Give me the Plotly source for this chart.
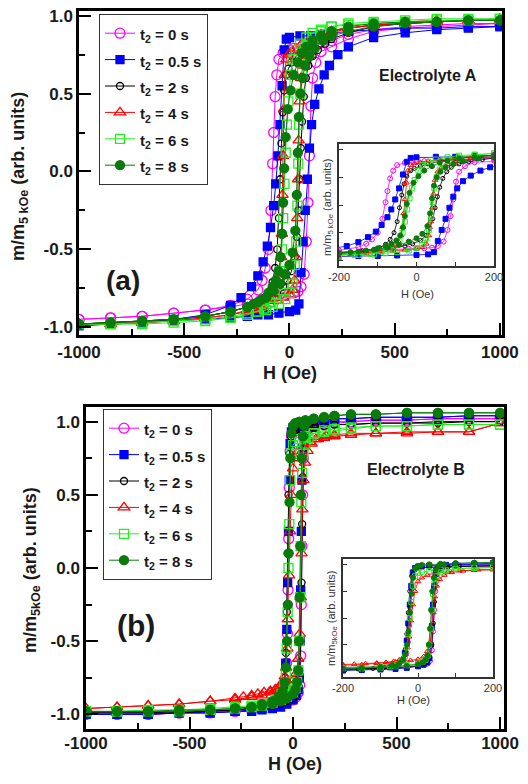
import plotly.graph_objects as go

# ================= DATA =================
LABELS = ["t<sub>2</sub> = 0 s", "t<sub>2</sub> = 0.5 s", "t<sub>2</sub> = 2 s",
          "t<sub>2</sub> = 4 s", "t<sub>2</sub> = 6 s", "t<sub>2</sub> = 8 s"]

# ---- Electrolyte A ----
A0_H_DOWN = [1000, 850, 700, 550, 400, 280, 200, 140, 100, 60, 20, 0, -30, -50, -60, -68, -75, -80, -88, -100, -115, -130, -150, -200, -280, -400, -550, -700, -850, -1000]
A0_M_DOWN = [0.95, 0.95, 0.94, 0.93, 0.91, 0.88, 0.84, 0.82, 0.81, 0.80, 0.79, 0.78, 0.76, 0.72, 0.62, 0.48, 0.25, 0.05, -0.25, -0.5, -0.62, -0.70, -0.76, -0.82, -0.86, -0.89, -0.91, -0.93, -0.94, -0.95]
A0_H_UP = [-1000, -850, -700, -550, -400, -280, -200, -140, -100, -60, -20, 0, 20, 40, 55, 70, 80, 88, 95, 102, 110, 125, 150, 200, 280, 400, 550, 700, 850, 1000]
A0_M_UP = [-0.95, -0.94, -0.93, -0.91, -0.89, -0.87, -0.85, -0.83, -0.81, -0.80, -0.79, -0.78, -0.78, -0.77, -0.74, -0.66, -0.45, -0.2, 0.1, 0.42, 0.6, 0.7, 0.77, 0.8, 0.85, 0.9, 0.92, 0.93, 0.94, 0.95]

A1_H_DOWN = [1000, 850, 700, 550, 400, 280, 200, 150, 100, 50, 0, -15, -25, -35, -45, -55, -65, -75, -90, -105, -125, -150, -180, -230, -280, -400, -550, -700, -850, -1000]
A1_M_DOWN = [0.93, 0.93, 0.92, 0.92, 0.91, 0.90, 0.89, 0.88, 0.87, 0.87, 0.86, 0.85, 0.78, 0.55, 0.30, 0.10, -0.08, -0.22, -0.36, -0.48, -0.58, -0.67, -0.74, -0.81, -0.86, -0.92, -0.95, -0.97, -0.98, -0.99]
A1_H_UP = [-1000, -850, -700, -550, -400, -280, -200, -150, -100, -50, 0, 30, 45, 55, 65, 75, 85, 95, 105, 120, 140, 165, 190, 230, 280, 400, 550, 700, 850, 1000]
A1_M_UP = [-0.99, -0.98, -0.97, -0.96, -0.95, -0.94, -0.93, -0.92, -0.92, -0.91, -0.90, -0.89, -0.85, -0.65, -0.45, -0.25, -0.05, 0.15, 0.3, 0.43, 0.53, 0.62, 0.68, 0.75, 0.80, 0.86, 0.89, 0.91, 0.92, 0.93]

A2_H_DOWN = [1000, 850, 700, 550, 400, 280, 200, 150, 100, 60, 30, 10, -5, -15, -25, -32, -38, -44, -50, -58, -68, -80, -95, -110, -140, -170, -200, -280, -400, -550, -700, -850, -1000]
A2_M_DOWN = [0.97, 0.97, 0.96, 0.95, 0.94, 0.92, 0.9, 0.87, 0.84, 0.79, 0.74, 0.7, 0.66, 0.62, 0.52, 0.38, 0.18, -0.05, -0.3, -0.5, -0.62, -0.71, -0.77, -0.80, -0.83, -0.85, -0.87, -0.9, -0.93, -0.95, -0.96, -0.97, -0.98]
A2_H_UP = [-1000, -850, -700, -550, -400, -280, -200, -150, -100, -60, -30, -10, 10, 25, 35, 42, 48, 54, 60, 68, 78, 90, 110, 135, 170, 200, 280, 400, 550, 700, 850, 1000]
A2_M_UP = [-0.98, -0.97, -0.96, -0.95, -0.93, -0.9, -0.87, -0.85, -0.82, -0.78, -0.74, -0.7, -0.64, -0.55, -0.42, -0.25, -0.05, 0.15, 0.32, 0.48, 0.6, 0.68, 0.74, 0.78, 0.82, 0.85, 0.89, 0.93, 0.95, 0.96, 0.97, 0.97]

A3_H_DOWN = [1000, 850, 700, 550, 400, 280, 200, 150, 100, 60, 30, 10, -5, -15, -22, -26, -30, -33, -36, -40, -46, -55, -70, -95, -130, -170, -200, -280, -400, -550, -700, -850, -1000]
A3_M_DOWN = [0.97, 0.97, 0.96, 0.95, 0.94, 0.92, 0.9, 0.88, 0.85, 0.82, 0.79, 0.77, 0.75, 0.72, 0.62, 0.4, 0.1, -0.15, -0.4, -0.55, -0.66, -0.73, -0.78, -0.83, -0.86, -0.88, -0.89, -0.92, -0.94, -0.96, -0.97, -0.98, -0.98]
A3_H_UP = [-1000, -850, -700, -550, -400, -280, -200, -170, -130, -95, -60, -30, 0, 15, 25, 32, 37, 41, 44, 48, 55, 65, 80, 100, 140, 200, 280, 400, 550, 700, 850, 1000]
A3_M_UP = [-0.98, -0.98, -0.97, -0.96, -0.94, -0.92, -0.9, -0.89, -0.87, -0.85, -0.83, -0.81, -0.79, -0.76, -0.7, -0.55, -0.3, -0.05, 0.2, 0.45, 0.6, 0.68, 0.74, 0.79, 0.84, 0.89, 0.92, 0.94, 0.96, 0.97, 0.97, 0.98]

A4_H_DOWN = [1000, 850, 700, 550, 400, 280, 200, 150, 110, 80, 50, 30, 15, 5, -5, -12, -18, -24, -30, -36, -44, -55, -70, -90, -120, -160, -200, -280, -400, -550, -700, -850, -1000]
A4_M_DOWN = [0.98, 0.97, 0.97, 0.96, 0.95, 0.94, 0.93, 0.91, 0.89, 0.86, 0.82, 0.78, 0.72, 0.62, 0.45, 0.3, 0.12, -0.08, -0.3, -0.5, -0.64, -0.73, -0.79, -0.84, -0.88, -0.9, -0.92, -0.94, -0.96, -0.97, -0.98, -0.98, -0.98]
A4_H_UP = [-1000, -850, -700, -550, -400, -280, -200, -150, -110, -80, -50, -20, 0, 15, 25, 32, 38, 42, 46, 52, 60, 70, 85, 110, 150, 200, 280, 400, 550, 700, 850, 1000]
A4_M_UP = [-0.98, -0.98, -0.97, -0.96, -0.95, -0.93, -0.91, -0.9, -0.89, -0.87, -0.85, -0.82, -0.78, -0.72, -0.6, -0.45, -0.22, 0.05, 0.3, 0.5, 0.64, 0.74, 0.81, 0.86, 0.9, 0.93, 0.95, 0.96, 0.97, 0.98, 0.98, 0.98]

A5_H_DOWN = [1000, 850, 700, 550, 400, 280, 200, 150, 110, 80, 60, 40, 20, 5, -8, -18, -25, -30, -35, -42, -52, -65, -80, -100, -130, -170, -200, -280, -400, -550, -700, -850, -1000]
A5_M_DOWN = [0.97, 0.97, 0.96, 0.96, 0.95, 0.93, 0.9, 0.87, 0.84, 0.8, 0.76, 0.7, 0.62, 0.52, 0.4, 0.22, 0.02, -0.2, -0.4, -0.55, -0.64, -0.7, -0.74, -0.78, -0.82, -0.85, -0.87, -0.9, -0.93, -0.95, -0.96, -0.97, -0.98]
A5_H_UP = [-1000, -850, -700, -550, -400, -280, -200, -150, -110, -75, -45, -20, 0, 15, 28, 35, 40, 45, 52, 62, 75, 95, 120, 160, 200, 280, 400, 550, 700, 850, 1000]
A5_M_UP = [-0.98, -0.97, -0.96, -0.95, -0.93, -0.9, -0.87, -0.84, -0.81, -0.77, -0.72, -0.66, -0.6, -0.52, -0.38, -0.15, 0.12, 0.35, 0.5, 0.6, 0.68, 0.74, 0.79, 0.84, 0.87, 0.9, 0.93, 0.95, 0.96, 0.97, 0.97]

# ---- Electrolyte B ----
B0_H_DOWN = [1000, 850, 700, 550, 400, 280, 200, 150, 100, 60, 30, 10, 0, -8, -14, -18, -21, -24, -27, -31, -38, -50, -70, -100, -150, -200, -280, -400, -550, -700, -850, -1000]
B0_M_DOWN = [1.02, 1.02, 1.02, 1.01, 1.01, 1.0, 0.99, 0.98, 0.97, 0.96, 0.95, 0.94, 0.93, 0.9, 0.8, 0.55, 0.2, -0.15, -0.45, -0.65, -0.78, -0.86, -0.9, -0.93, -0.95, -0.96, -0.97, -0.98, -0.99, -1.0, -1.0, -1.0]
B0_H_UP = [-1000, -850, -700, -550, -400, -280, -200, -150, -100, -60, -30, 0, 15, 25, 32, 37, 40, 43, 46, 50, 56, 65, 80, 110, 150, 200, 280, 400, 550, 700, 850, 1000]
B0_M_UP = [-1.0, -1.0, -1.0, -0.99, -0.99, -0.98, -0.97, -0.96, -0.95, -0.94, -0.92, -0.9, -0.88, -0.85, -0.8, -0.6, -0.25, 0.15, 0.5, 0.75, 0.88, 0.93, 0.96, 0.98, 0.99, 1.0, 1.0, 1.01, 1.01, 1.02, 1.02, 1.02]

B1_H_DOWN = [1000, 850, 700, 550, 400, 280, 200, 150, 100, 60, 30, 10, 0, -8, -14, -18, -22, -26, -30, -35, -42, -55, -75, -100, -150, -200, -280, -400, -550, -700, -850, -1000]
B1_M_DOWN = [1.04, 1.04, 1.03, 1.03, 1.03, 1.02, 1.02, 1.01, 1.0, 0.99, 0.98, 0.97, 0.96, 0.93, 0.85, 0.6, 0.25, -0.1, -0.42, -0.65, -0.8, -0.88, -0.92, -0.94, -0.96, -0.97, -0.98, -0.99, -0.99, -1.0, -1.0, -1.0]
B1_H_UP = [-1000, -850, -700, -550, -400, -280, -200, -150, -100, -60, -30, 0, 15, 25, 30, 34, 37, 40, 43, 47, 52, 60, 75, 100, 150, 200, 280, 400, 550, 700, 850, 1000]
B1_M_UP = [-1.0, -1.0, -1.0, -0.99, -0.99, -0.98, -0.98, -0.97, -0.96, -0.95, -0.93, -0.9, -0.87, -0.83, -0.75, -0.5, -0.15, 0.25, 0.6, 0.82, 0.92, 0.96, 0.99, 1.0, 1.01, 1.02, 1.02, 1.03, 1.03, 1.03, 1.04, 1.04]

B2_H_DOWN = [1000, 850, 700, 550, 400, 280, 200, 150, 100, 60, 30, 10, 0, -10, -17, -22, -26, -30, -34, -40, -50, -65, -90, -120, -160, -200, -280, -400, -550, -700, -850, -1000]
B2_M_DOWN = [1.0, 1.0, 0.99, 0.99, 0.99, 0.98, 0.98, 0.97, 0.96, 0.96, 0.95, 0.94, 0.93, 0.9, 0.78, 0.5, 0.1, -0.3, -0.58, -0.75, -0.84, -0.89, -0.92, -0.94, -0.95, -0.96, -0.97, -0.98, -0.99, -0.99, -0.99, -0.99]
B2_H_UP = [-1000, -850, -700, -550, -400, -280, -200, -150, -100, -60, -30, 0, 15, 25, 32, 37, 41, 44, 47, 51, 56, 65, 80, 110, 150, 200, 280, 400, 550, 700, 850, 1000]
B2_M_UP = [-0.99, -0.99, -0.99, -0.98, -0.98, -0.97, -0.96, -0.95, -0.94, -0.93, -0.91, -0.89, -0.86, -0.82, -0.74, -0.5, -0.1, 0.3, 0.62, 0.82, 0.9, 0.93, 0.95, 0.96, 0.97, 0.98, 0.98, 0.99, 0.99, 1.0, 1.0, 1.0]

B3_H_DOWN = [1000, 850, 700, 550, 400, 280, 200, 150, 110, 80, 50, 25, 10, 0, -8, -14, -19, -24, -28, -33, -40, -50, -65, -85, -110, -150, -200, -280, -400, -550, -700, -850, -1000]
B3_M_DOWN = [0.99, 0.93, 0.93, 0.92, 0.92, 0.91, 0.9, 0.89, 0.88, 0.86, 0.84, 0.8, 0.75, 0.68, 0.5, 0.25, -0.05, -0.35, -0.55, -0.68, -0.74, -0.78, -0.81, -0.83, -0.85, -0.87, -0.88, -0.9, -0.91, -0.93, -0.94, -0.95, -0.96]
B3_H_UP = [-1000, -850, -700, -550, -400, -280, -240, -200, -170, -140, -110, -85, -60, -40, -20, 0, 15, 25, 32, 37, 41, 45, 50, 58, 70, 90, 120, 160, 200, 280, 400, 550, 700, 850, 1000]
B3_M_UP = [-0.96, -0.95, -0.94, -0.93, -0.91, -0.89, -0.88, -0.87, -0.86, -0.85, -0.84, -0.83, -0.82, -0.81, -0.79, -0.77, -0.72, -0.62, -0.45, -0.2, 0.1, 0.4, 0.6, 0.72, 0.8, 0.85, 0.88, 0.9, 0.91, 0.92, 0.92, 0.93, 0.93, 0.93, 0.99]

B4_H_DOWN = [1000, 850, 700, 550, 400, 280, 200, 150, 100, 60, 30, 10, 0, -8, -14, -18, -22, -26, -30, -35, -42, -55, -75, -100, -150, -200, -280, -400, -550, -700, -850, -1000]
B4_M_DOWN = [0.98, 0.98, 0.98, 0.97, 0.97, 0.95, 0.94, 0.93, 0.92, 0.9, 0.88, 0.86, 0.84, 0.78, 0.6, 0.3, 0.0, -0.3, -0.55, -0.72, -0.8, -0.86, -0.9, -0.92, -0.94, -0.95, -0.96, -0.97, -0.98, -0.98, -0.98, -0.98]
B4_H_UP = [-1000, -850, -700, -550, -400, -280, -200, -150, -100, -60, -30, 0, 12, 20, 26, 30, 34, 37, 40, 44, 50, 60, 75, 100, 150, 200, 280, 400, 550, 700, 850, 1000]
B4_M_UP = [-0.98, -0.98, -0.97, -0.97, -0.96, -0.95, -0.94, -0.93, -0.92, -0.9, -0.88, -0.85, -0.82, -0.78, -0.7, -0.5, -0.2, 0.15, 0.45, 0.65, 0.78, 0.85, 0.89, 0.92, 0.94, 0.95, 0.96, 0.97, 0.97, 0.98, 0.98, 0.98]

B5_H_DOWN = [1000, 850, 700, 550, 400, 280, 200, 150, 100, 60, 30, 10, 0, -8, -13, -17, -21, -25, -29, -34, -40, -50, -70, -100, -150, -200, -280, -400, -550, -700, -850, -1000]
B5_M_DOWN = [1.06, 1.06, 1.06, 1.06, 1.05, 1.05, 1.04, 1.03, 1.02, 1.01, 1.0, 0.99, 0.97, 0.92, 0.75, 0.45, 0.1, -0.25, -0.5, -0.68, -0.78, -0.84, -0.88, -0.91, -0.93, -0.95, -0.96, -0.97, -0.98, -0.98, -0.98, -0.98]
B5_H_UP = [-1000, -850, -700, -550, -400, -280, -200, -150, -100, -60, -30, 0, 12, 20, 25, 29, 32, 35, 38, 42, 47, 55, 70, 100, 150, 200, 280, 400, 550, 700, 850, 1000]
B5_M_UP = [-0.98, -0.98, -0.98, -0.97, -0.97, -0.96, -0.95, -0.94, -0.93, -0.91, -0.89, -0.86, -0.83, -0.78, -0.7, -0.5, -0.2, 0.15, 0.5, 0.75, 0.9, 0.97, 1.0, 1.02, 1.03, 1.04, 1.05, 1.05, 1.06, 1.06, 1.06, 1.06]

A_SERIES = [(A0_H_DOWN, A0_M_DOWN, A0_H_UP, A0_M_UP), (A1_H_DOWN, A1_M_DOWN, A1_H_UP, A1_M_UP),
            (A2_H_DOWN, A2_M_DOWN, A2_H_UP, A2_M_UP), (A3_H_DOWN, A3_M_DOWN, A3_H_UP, A3_M_UP),
            (A4_H_DOWN, A4_M_DOWN, A4_H_UP, A4_M_UP), (A5_H_DOWN, A5_M_DOWN, A5_H_UP, A5_M_UP)]
B_SERIES = [(B0_H_DOWN, B0_M_DOWN, B0_H_UP, B0_M_UP), (B1_H_DOWN, B1_M_DOWN, B1_H_UP, B1_M_UP),
            (B2_H_DOWN, B2_M_DOWN, B2_H_UP, B2_M_UP), (B3_H_DOWN, B3_M_DOWN, B3_H_UP, B3_M_UP),
            (B4_H_DOWN, B4_M_DOWN, B4_H_UP, B4_M_UP), (B5_H_DOWN, B5_M_DOWN, B5_H_UP, B5_M_UP)]

MAIN_X_TICKS = [-1000, -500, 0, 500, 1000]
MAIN_X_MINOR = [-750, -250, 250, 750]
MAIN_Y_TICKS = [-1.0, -0.5, 0.0, 0.5, 1.0]
MAIN_Y_MINOR = [-0.75, -0.25, 0.25, 0.75]
INSET_X_TICKS = [-200, -100, 0, 100, 200]
INSET_X_TEXT = ["-200", "", "0", "", "200"]

# ================= STYLE =================
STYLES = [
    dict(color="#FF00FF", symbol="circle-open", size=10, isize=5),
    dict(color="#0000FF", symbol="square", size=8, isize=5),
    dict(color="#000000", symbol="circle-open", size=7, isize=4),
    dict(color="#FF0000", symbol="triangle-up-open", size=10, isize=5),
    dict(color="#22EE22", symbol="square-open", size=9, isize=5),
    dict(color="#0A7A0A", symbol="circle", size=9, isize=5),
]
W, HGT = 528, 784
FONT = "Liberation Sans, Arial, sans-serif"
TXT = "#1a1a1a"


def fx(p):
    return p / W


def fy(p):
    return 1 - p / HGT


fig = go.Figure()


def add_panel(series, xm, ym, xi, yi, legend):
    for i, (hd, md, hu, mu) in enumerate(series):
        st = STYLES[i]
        h = list(hd) + list(hu)
        m = list(md) + list(mu)
        mline = dict(color=st["color"], width=1.3)
        fig.add_trace(go.Scatter(
            x=h, y=m, mode="lines+markers",
            name="<span style='font-size:15px'>" + LABELS[i] + "</span>", legend=legend,
            xaxis=xm, yaxis=ym,
            line=dict(color=st["color"], width=1),
            marker=dict(symbol=st["symbol"], size=st["size"], color=st["color"], line=mline),
        ))
        fig.add_trace(go.Scatter(
            x=h, y=m, mode="lines+markers", showlegend=False,
            xaxis=xi, yaxis=yi,
            line=dict(color=st["color"], width=0.8),
            marker=dict(symbol=st["symbol"], size=st["isize"], color=st["color"],
                        line=dict(color=st["color"], width=1)),
        ))


add_panel(A_SERIES, "x", "y", "x2", "y2", "legend")
add_panel(B_SERIES, "x3", "y3", "x4", "y4", "legend2")

tick_font = dict(family=FONT, size=17, color=TXT, weight="bold")
ytick_font = dict(family=FONT, size=17, color=TXT, weight="bold")
inset_font = dict(family=FONT, size=11, color="#333")


def main_x(dom, rng, anchor, standoff=0):
    return dict(domain=dom, range=rng, anchor=anchor, automargin=False, tickmode="array",
                tickvals=MAIN_X_TICKS, ticktext=[str(v) for v in MAIN_X_TICKS], ticks="inside",
                ticklen=12, tickwidth=2, tickcolor="black", ticklabelstandoff=standoff,
                minor=dict(tickmode="array", tickvals=MAIN_X_MINOR, ticks="inside",
                           ticklen=6, tickwidth=2, tickcolor="black"),
                showline=True, linewidth=2.5, linecolor="black", mirror=True, showgrid=False,
                zeroline=False, tickfont=tick_font)


def main_y(dom, rng, anchor):
    return dict(domain=dom, range=rng, anchor=anchor, automargin=False, tickmode="array",
                tickvals=MAIN_Y_TICKS, ticktext=["%.1f" % v for v in MAIN_Y_TICKS], ticks="inside",
                ticklen=12, tickwidth=2, tickcolor="black",
                minor=dict(tickmode="array", tickvals=MAIN_Y_MINOR, ticks="inside",
                           ticklen=6, tickwidth=2, tickcolor="black"),
                showline=True, linewidth=2.5, linecolor="black", mirror=True, showgrid=False,
                zeroline=False, tickfont=ytick_font)


def inset_x(dom, anchor):
    return dict(domain=dom, range=[-200, 200], anchor=anchor, automargin=False, tickmode="array",
                tickvals=INSET_X_TICKS, ticktext=INSET_X_TEXT, ticks="inside", ticklen=4,
                tickwidth=1, tickcolor="#333", showline=True, linewidth=1.5, linecolor="#333",
                mirror=True, showgrid=False, zeroline=False, tickfont=inset_font)


def inset_y(dom, anchor):
    return dict(domain=dom, range=[-1.1, 1.1], anchor=anchor, automargin=False, tickmode="array",
                tickvals=MAIN_Y_TICKS, showticklabels=False, ticks="inside", ticklen=4, tickwidth=1,
                tickcolor="#333", showline=True, linewidth=1.5, linecolor="#333", mirror=True,
                showgrid=False, zeroline=False)


legend_style = dict(xanchor="left", yanchor="top", bordercolor="#333", borderwidth=1, bgcolor="white",
                    font=dict(family=FONT, size=18, color=TXT, weight="bold"), tracegroupgap=0)

fig.update_layout(
    width=W, height=HGT, margin=dict(l=0, r=0, t=0, b=0, pad=0, autoexpand=False),
    paper_bgcolor="white", plot_bgcolor="white",
    xaxis=main_x([fx(79), fx(502)], [-1000, 1010], "y"),
    yaxis=main_y([fy(335), fy(11)], [-1.05, 1.03], "x"),
    xaxis2=inset_x([fx(339), fx(494)], "y2"),
    yaxis2=inset_y([fy(266), fy(144)], "x2"),
    xaxis3=main_x([fx(86), fx(504)], [-1000, 1019], "y3", standoff=-3),
    yaxis3=main_y([fy(729), fy(407)], [-1.1, 1.1], "x3"),
    xaxis4=inset_x([fx(343), fx(493)], "y4"),
    yaxis4=inset_y([fy(677), fy(559)], "x4"),
    legend=dict(x=fx(99), y=fy(14), **legend_style),
    legend2=dict(x=fx(103), y=fy(409), **legend_style),
    showlegend=True,
)

ANN = [
    ("H (Oe)", 290, 373, 18, 0, True),
    ("H (Oe)", 295, 764, 18, 0, True),
    ("m/m<sub>5 kOe</sub> (arb. units)", 20, 177, 18, -90, True),
    ("m/m<sub>5kOe</sub> (arb. units)", 31, 570, 18, -90, True),
    ("Electrolyte A", 428, 75, 16, 0, True),
    ("Electrolyte B", 416, 469, 16, 0, True),
    ("(a)", 123, 280, 28, 0, True),
    ("(b)", 136, 625, 30, 0, True),
    ("H (Oe)", 417, 294, 11, 0, False),
    ("H (Oe)", 413, 700, 11, 0, False),
    ("m/m<sub>5 kOe</sub> (arb. units)", 328, 207, 11, -90, False),
    ("m/m<sub>5kOe</sub> (arb. units)", 332, 619, 11, -90, False),
]
for text, px, py, size, ang, bold in ANN:
    fig.add_annotation(text=text, x=fx(px), y=fy(py), xref="paper", yref="paper",
                       xanchor="center", yanchor="middle", showarrow=False, textangle=ang,
                       font=dict(family=FONT, size=size, color=TXT if bold else "#333",
                                 weight="bold" if bold else "normal"))

fig.write_html("out.html", config={"displayModeBar": False},
               post_script="document.body.style.margin='0';document.body.style.overflow='hidden';")
